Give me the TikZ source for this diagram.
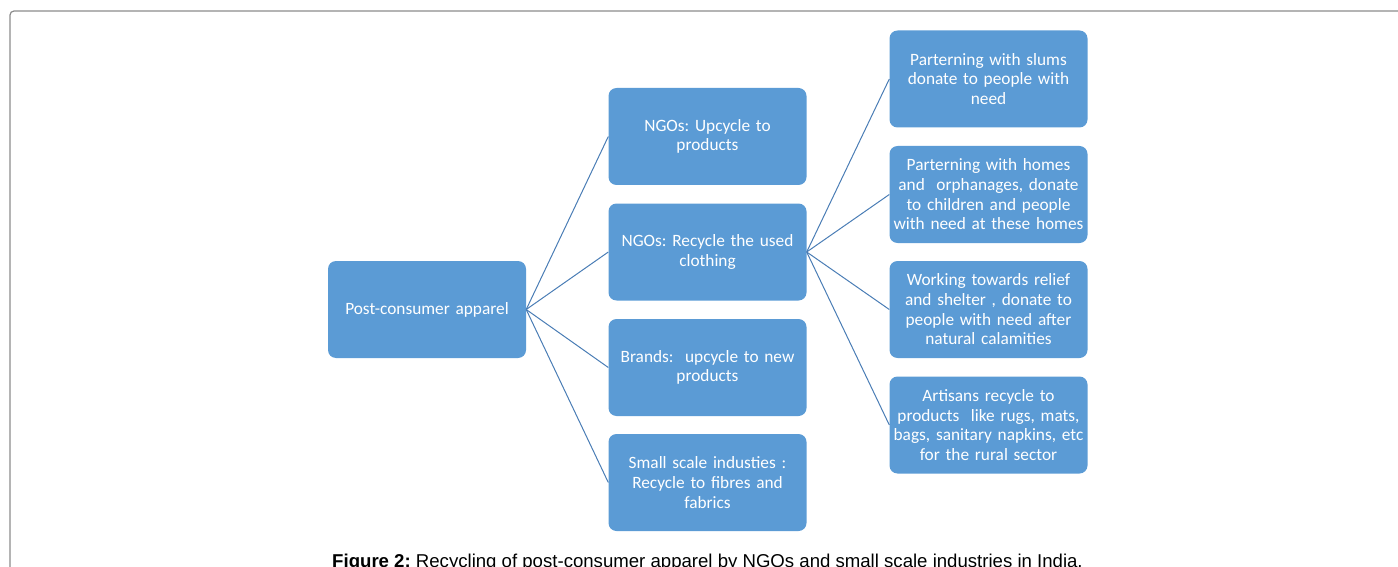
\documentclass[tikz,border=0pt]{standalone}
\usepackage{fontspec}
\setmainfont{Carlito}
\newfontfamily\capfont{Liberation Sans}
\usepackage{tikz}
\usetikzlibrary{positioning}
\frenchspacing

\definecolor{boxblue}{HTML}{5B9BD5}
\definecolor{linkblue}{HTML}{4A7DB5}
\definecolor{framegray}{HTML}{8C8C8C}

\tikzset{
    box/.style={fill=boxblue, rounded corners=8pt, text=white,
        minimum width=198pt, minimum height=97pt, text width=194pt,
        align=center, inner sep=0pt,
        font=\fontsize{17.3}{19.7}\selectfont},
    link/.style={draw=linkblue, line width=1pt}
}

\begin{document}
\begin{tikzpicture}[x=1pt, y=-1pt]
    \useasboundingbox (0,0) rectangle (1398,567);

    % frame round the figure
    \draw[framegray, line width=1.2pt, rounded corners=4pt]
        (10,580) -- (10,11) -- (1410,11);

    % root
    \node[box] (root) at (427,309.5) {Post-consumer apparel};

    % middle column
    \foreach \name/\y/\txt in {
        up/136.5/{NGOs: Upcycle to\\products},
        rec/252/{NGOs: Recycle the used\\clothing},
        brand/367.5/{Brands:\ \ upcycle to new\\products},
        ind/482.5/{Small scale industies :\\Recycle to fibres and\\fabrics}}
    {
        \node[box] (\name) at (707.5,\y) {\txt};
        \draw[link] (root.east) -- (\name.west);
    }

    % right column, all from the recycling NGOs
    \foreach \name/\y/\txt in {
        slum/79/{Parterning with slums\\donate to people with\\need},
        home/194.5/{Parterning with homes\\and\ \ orphanages, donate\\to children and people\\with need at these homes},
        relief/309.5/{Working towards relief\\and shelter , donate to\\people with need after\\natural calamities},
        art/425/{Artisans recycle to\\products\ \ like rugs, mats,\\bags, sanitary napkins, etc\\for the rural sector}}
    {
        \node[box] (\name) at (988.5,\y) {\txt};
        \draw[link] (rec.east) -- (\name.west);
    }

    % caption
    \node[anchor=base, inner sep=0pt, font=\capfont\fontsize{18.6}{22}\selectfont]
        (cap) at (707.5,567)
        {\textbf{Figure 2:} Recycling of post-consumer apparel by NGOs and small scale industries in India.};
\end{tikzpicture}
\end{document}
